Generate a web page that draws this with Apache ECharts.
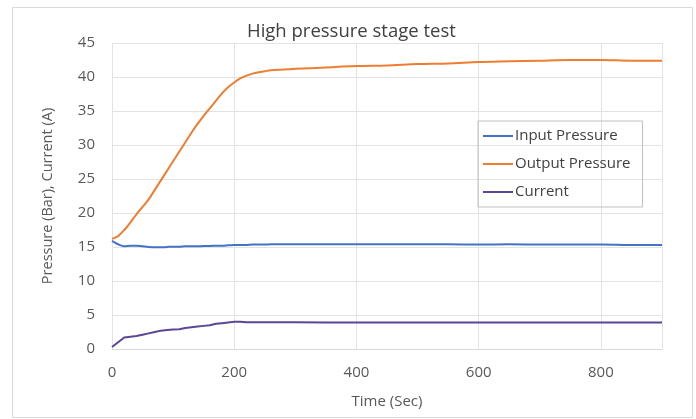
<!DOCTYPE html>
<html>
<head>
<meta charset="utf-8">
<script src="https://cdn.jsdelivr.net/npm/echarts@6/dist/echarts.min.js"></script>
<style>
  html, body { margin: 0; padding: 0; background: #fff; }
  #chart { width: 696px; height: 419px; }
</style>
</head>
<body>
<div id="chart"></div>
<script>
// time axis (sec)
var time = [0, 10, 20, 30, 40, 50, 60, 70, 80, 90, 100, 110, 120, 130, 140, 150, 160, 170, 180, 190,
  200, 210, 220, 230, 240, 250, 260, 280, 300, 350, 400, 450, 500, 550, 600, 650, 700, 750, 800, 850, 900];
var inputPressure = [15.9, 15.4, 15.1, 15.2, 15.2, 15.1, 15.0, 14.95, 14.95, 15.0, 15.05, 15.05, 15.1, 15.1, 15.1, 15.15, 15.15, 15.2, 15.2, 15.25,
  15.3, 15.3, 15.3, 15.35, 15.35, 15.35, 15.4, 15.4, 15.4, 15.4, 15.4, 15.4, 15.4, 15.4, 15.35, 15.4, 15.35, 15.35, 15.35, 15.3, 15.3];
var outputPressure = [16.2, 16.6, 17.5, 18.6, 19.8, 20.9, 22.0, 23.4, 24.8, 26.2, 27.6, 29.0, 30.4, 31.8, 33.1, 34.3, 35.4, 36.5, 37.6, 38.5,
  39.2, 39.8, 40.2, 40.5, 40.7, 40.85, 41.0, 41.1, 41.2, 41.4, 41.6, 41.7, 41.9, 42.0, 42.2, 42.3, 42.4, 42.5, 42.5, 42.4, 42.4];
var current = [0.3, 1.0, 1.7, 1.8, 1.9, 2.1, 2.3, 2.5, 2.7, 2.8, 2.85, 2.9, 3.1, 3.2, 3.3, 3.4, 3.5, 3.7, 3.8, 3.9,
  4.0, 4.0, 3.95, 3.95, 3.95, 3.95, 3.95, 3.95, 3.95, 3.9, 3.9, 3.9, 3.9, 3.9, 3.9, 3.9, 3.9, 3.9, 3.9, 3.9, 3.9];
var seriesNames = ["Input Pressure", "Output Pressure", "Current"];

function pairs(ys) {
  return time.map(function (t, i) { return [t, ys[i]]; });
}

var chart = echarts.init(document.getElementById("chart"));
var font = "Open Sans";
var option = {
  animation: false,
  textStyle: { fontFamily: font },
  title: {
    text: "High pressure stage test",
    left: 247,
    top: 22,
    padding: 0,
    textStyle: { fontSize: 18.5, fontWeight: "normal", color: "#404040", fontFamily: font }
  },
  graphic: [{
    type: "rect",
    shape: { x: 12.5, y: 7.5, width: 680, height: 410 },
    style: { fill: "none", stroke: "#d9d9d9", lineWidth: 1 },
    silent: true
  }],
  legend: {
    orient: "vertical",
    left: 478,
    top: 121,
    padding: [7, 12, 7, 5],
    itemGap: 12,
    itemWidth: 30,
    itemHeight: 2,
    itemStyle: { borderWidth: 0 },
    icon: "rect",
    borderColor: "#bfbfbf",
    borderWidth: 1,
    data: seriesNames,
    textStyle: { fontSize: 15, color: "#404040", fontFamily: font, padding: [0, 0, 0, -3], lineHeight: 16 }
  },
  grid: { left: 112, right: 34, top: 43, bottom: 70 },
  xAxis: {
    type: "value",
    min: 0,
    max: 900,
    interval: 200,
    name: "Time (Sec)",
    nameLocation: "middle",
    nameGap: 45,
    nameTextStyle: { fontSize: 15, color: "#595959" },
    axisLine: { show: true, lineStyle: { color: "#d9d9d9" } },
    axisTick: { show: false },
    axisLabel: { fontSize: 15, color: "#595959", margin: 16, showMaxLabel: false },
    splitLine: { show: true, lineStyle: { color: "#e3e3e3" } }
  },
  yAxis: {
    type: "value",
    min: 0,
    max: 45,
    interval: 5,
    name: "Pressure (Bar), Current (A)",
    nameLocation: "middle",
    nameGap: 57,
    nameTextStyle: { fontSize: 14.5, color: "#595959" },
    axisLine: { show: false },
    axisTick: { show: false },
    axisLabel: { fontSize: 15, color: "#595959", margin: 17 },
    splitLine: { show: true, lineStyle: { color: "#e3e3e3" } }
  },
  series: [
    {
      name: seriesNames[0],
      type: "line",
      data: pairs(inputPressure),
      showSymbol: false,
      smooth: 0.3,
      color: "#4472c4",
      lineStyle: { width: 2 }
    },
    {
      name: seriesNames[1],
      type: "line",
      data: pairs(outputPressure),
      showSymbol: false,
      smooth: 0.3,
      color: "#ed7d31",
      lineStyle: { width: 2 }
    },
    {
      name: seriesNames[2],
      type: "line",
      data: pairs(current),
      showSymbol: false,
      color: "#5b4596",
      lineStyle: { width: 2 }
    }
  ]
};
chart.setOption(option);
</script>
</body>
</html>
